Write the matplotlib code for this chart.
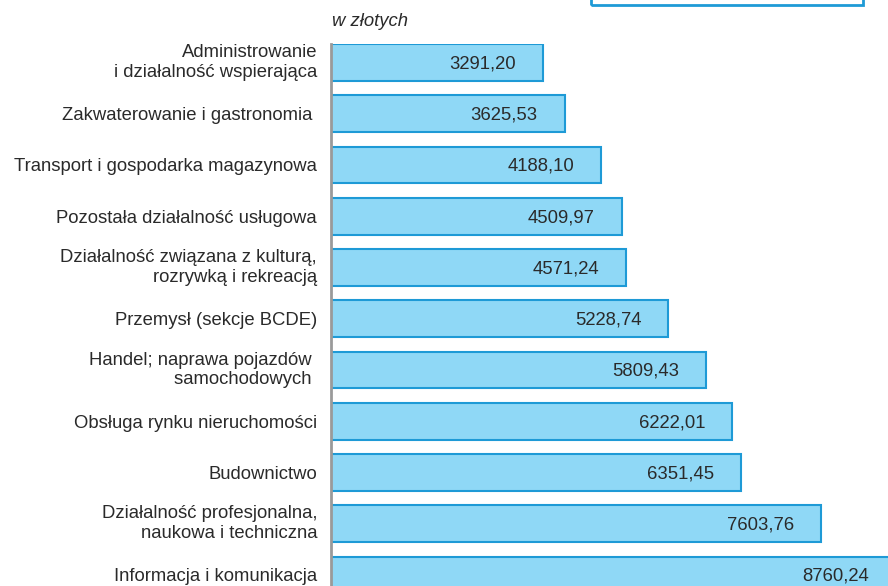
import matplotlib.pyplot as plt
import matplotlib.patches as mpatches

plt.rcParams["font.family"] = ["Liberation Sans", "DejaVu Sans"]

# ── Data ──────────────────────────────────────────────────────────────────────
categories = [
    "Administrowanie\ni działalność wspierająca",
    "Zakwaterowanie i gastronomia ",
    "Transport i gospodarka magazynowa",
    "Pozostała działalność usługowa",
    "Działalność związana z kulturą,\nrozrywką i rekreacją",
    "Przemysł (sekcje BCDE)",
    "Handel; naprawa pojazdów \nsamochodowych ",
    "Obsługa rynku nieruchomości",
    "Budownictwo",
    "Działalność profesjonalna,\nnaukowa i techniczna",
    "Informacja i komunikacja",
]
values = [3291.20, 3625.53, 4188.10, 4509.97, 4571.24, 5228.74,
          5809.43, 6222.01, 6351.45, 7603.76, 8760.24]
value_labels = ["3291,20", "3625,53", "4188,10", "4509,97", "4571,24", "5228,74",
                "5809,43", "6222,01", "6351,45", "7603,76", "8760,24"]

FILL = "#8fd8f6"
EDGE = "#1e9ad6"
TEXT = "#2a2a2a"
FS = 13.3

# pixel geometry of the cropped original
W, H = 888, 586
AX_LEFT, AX_TOP, AX_BOTTOM = 331, 44, 636
PX_PER_ROW = 51.25
PX_PER_UNIT = 0.0645


def main():
    fig = plt.figure(figsize=(W / 100, H / 100), dpi=100)
    ax = fig.add_axes([AX_LEFT / W, 1 - AX_BOTTOM / H,
                       (W - AX_LEFT) / W, (AX_BOTTOM - AX_TOP) / H])

    ypos = list(range(len(values)))
    ax.barh(ypos, values, height=0.72, color=FILL, edgecolor=EDGE, linewidth=1.5)

    ax.set_xlim(0, (W - AX_LEFT) / PX_PER_UNIT)
    ax.set_ylim(-0.36 + (AX_BOTTOM - AX_TOP) / PX_PER_ROW, -0.36)

    for y, v, lab in zip(ypos, values, value_labels):
        ax.text(v - 27 / PX_PER_UNIT, y + 0.03, lab, ha="right", va="center",
                fontsize=FS, color=TEXT)

    ax.set_yticks(ypos)
    ax.set_yticklabels(categories, fontsize=FS, color=TEXT, ha="right",
                       multialignment="right")
    ax.tick_params(axis="y", length=0, pad=10)
    ax.set_xticks([])

    # two-line labels sit a touch higher in the original
    for lab in ax.get_yticklabels():
        if "\n" in lab.get_text():
            lab.set_va("center")

    for side in ["top", "right", "bottom"]:
        ax.spines[side].set_visible(False)
    ax.spines["left"].set_color("#9a9a9a")
    ax.spines["left"].set_linewidth(2)

    # unit note
    fig.text(332 / W, 1 - 22 / H, "w złotych", fontsize=FS, style="italic",
             color=TEXT, ha="left", va="center")

    # cut-off legend frame at the top
    frame = mpatches.Rectangle((591 / W, 1 - 5 / H), 272 / W, 30 / H,
                               transform=fig.transFigure, fill=False,
                               edgecolor=EDGE, linewidth=2, clip_on=False)
    fig.patches.append(frame)

    fig.savefig("out.png", dpi=100, facecolor="white")


if __name__ == "__main__":
    main()
